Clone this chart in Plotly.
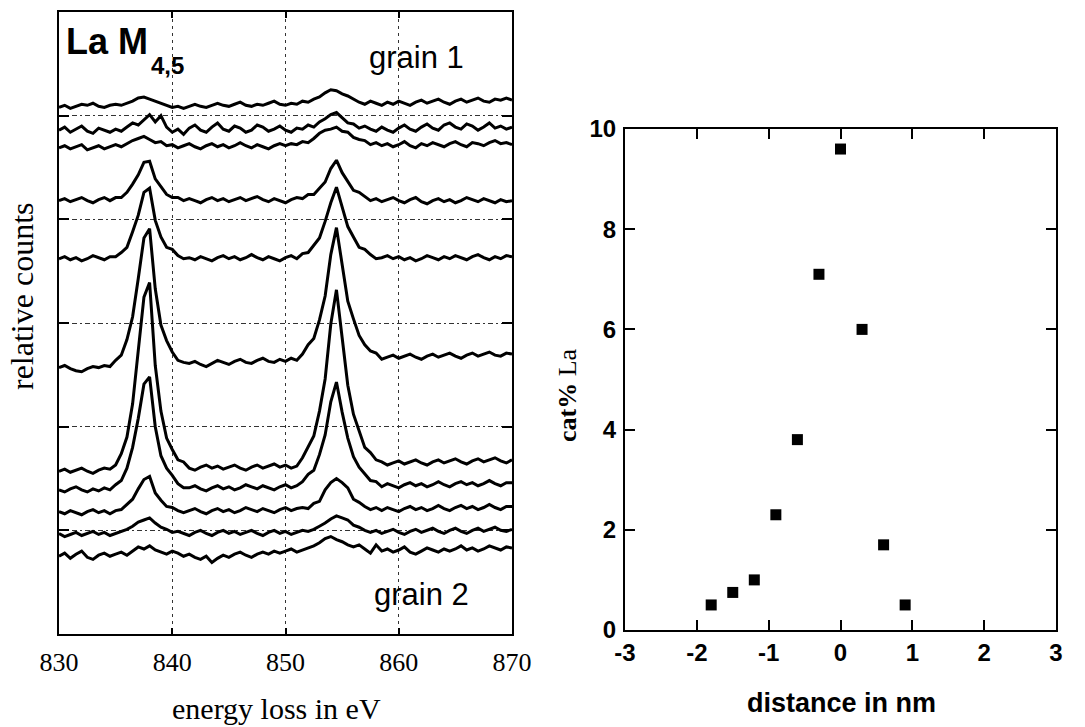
import plotly.graph_objects as go

# ---------------- data: La M4,5 edge spectra (relative counts, arbitrary offset units) -------------
energy = [830.0, 830.5, 831.0, 831.5, 832.0, 832.5, 833.0, 833.5, 834.0, 834.5,
          835.0, 835.5, 836.0, 836.5, 837.0, 837.5, 838.0, 838.5, 839.0, 839.5,
          840.0, 840.5, 841.0, 841.5, 842.0, 842.5, 843.0, 843.5, 844.0, 844.5,
          845.0, 845.5, 846.0, 846.5, 847.0, 847.5, 848.0, 848.5, 849.0, 849.5,
          850.0, 850.5, 851.0, 851.5, 852.0, 852.5, 853.0, 853.5, 854.0, 854.5,
          855.0, 855.5, 856.0, 856.5, 857.0, 857.5, 858.0, 858.5, 859.0, 859.5,
          860.0, 860.5, 861.0, 861.5, 862.0, 862.5, 863.0, 863.5, 864.0, 864.5,
          865.0, 865.5, 866.0, 866.5, 867.0, 867.5, 868.0, 868.5, 869.0, 869.5,
          870.0]

spec_01 = [508, 510, 507, 509, 511, 510, 512, 509, 508, 510,
           511, 510, 512, 514, 517, 518, 516, 514, 512, 510,
           508, 509, 507, 509, 511, 509, 508, 510, 512, 510,
           509, 511, 513, 510, 509, 511, 510, 512, 514, 511,
           510, 512, 511, 514, 513, 516, 518, 522, 525, 524,
           521, 519, 516, 513, 511, 514, 512, 510, 513, 511,
           514, 512, 510, 513, 515, 512, 514, 516, 513, 511,
           514, 516, 513, 515, 517, 514, 513, 516, 515, 517,
           515]
spec_02 = [486, 489, 484, 487, 490, 485, 483, 488, 486, 484,
           487, 485, 489, 493, 491, 496, 501, 494, 500, 489,
           484, 487, 482, 488, 491, 486, 484, 489, 493, 487,
           485, 490, 488, 484, 486, 491, 489, 485, 487, 490,
           486, 484, 488, 487, 491, 489, 494, 497, 501, 503,
           498, 493, 492, 488, 490, 487, 485, 489, 486, 484,
           488, 491, 487, 485, 489, 492, 488, 486, 491, 493,
           489, 487, 492, 490, 486, 489, 493, 488, 490, 487,
           489]
spec_03 = [469, 471, 468, 470, 472, 467, 469, 471, 468, 470,
           472, 470, 473, 476, 478, 480, 477, 474, 475, 471,
           472, 469, 471, 473, 470, 468, 471, 473, 470, 472,
           469, 471, 474, 471, 469, 472, 470, 468, 471, 473,
           471, 473, 472, 475, 474, 478, 483, 486, 487, 489,
           485, 484, 479, 477, 476, 472, 474, 471, 473, 470,
           472, 475, 471, 469, 473, 471, 474, 472, 470, 473,
           475, 472, 470, 474, 473, 471, 474, 476, 473, 474,
           472]
spec_04 = [418, 420, 417, 419, 421, 418, 416, 419, 421, 418,
           421, 421, 426, 434, 443, 455, 456, 439, 431, 424,
           421, 421, 418, 420, 418, 416, 419, 421, 418, 420,
           417, 419, 421, 418, 420, 422, 419, 417, 420, 418,
           416, 419, 421, 420, 424, 424, 430, 436, 449, 457,
           445, 437, 428, 426, 422, 418, 420, 417, 419, 421,
           418, 416, 419, 421, 417, 415, 418, 420, 417, 419,
           416, 418, 421, 419, 417, 420, 418, 416, 419, 417,
           418]
spec_05 = [362, 364, 361, 363, 360, 362, 365, 363, 361, 364,
           364, 368, 373, 388, 404, 426, 430, 399, 383, 373,
           371, 365, 362, 363, 361, 364, 362, 360, 363, 365,
           362, 364, 361, 363, 366, 363, 361, 364, 362, 360,
           363, 365, 362, 367, 368, 375, 382, 398, 416, 431,
           413, 393, 383, 373, 371, 366, 362, 363, 365, 362,
           364, 361, 363, 360, 362, 365, 363, 361, 364, 362,
           365, 363, 361, 364, 366, 363, 361, 364, 362, 365,
           364]
spec_06 = [257, 259, 256, 254, 253, 256, 258, 257, 259, 258,
           264, 269, 284, 306, 343, 382, 391, 333, 298, 283,
           272, 264, 262, 261, 263, 260, 258, 261, 264, 262,
           260, 263, 265, 262, 261, 264, 266, 263, 262, 265,
           263, 266, 264, 270, 279, 285, 303, 326, 366, 392,
           356, 321, 304, 288, 279, 273, 271, 265, 267, 269,
           266, 268, 270, 267, 265, 268, 270, 267, 269, 271,
           268, 266, 269, 271, 268, 270, 272, 269, 268, 271,
           270]
spec_07 = [157, 159, 156, 158, 160, 157, 155, 158, 160, 159,
           163, 174, 190, 222, 272, 325, 339, 259, 215, 189,
           178, 168, 166, 160, 158, 161, 163, 160, 162, 159,
           161, 163, 160, 158, 161, 163, 160, 162, 164, 161,
           163, 160, 162, 170, 180, 191, 215, 246, 299, 332,
           286, 240, 212, 195, 180, 175, 168, 166, 163, 165,
           167, 164, 166, 168, 165, 163, 166, 168, 165, 167,
           169, 166, 164, 167, 169, 166, 168, 170, 167, 165,
           168]
spec_08 = [139, 137, 140, 142, 139, 137, 140, 138, 141, 139,
           144, 148, 160, 180, 208, 241, 248, 200, 172, 160,
           153, 145, 141, 141, 143, 140, 138, 141, 143, 140,
           142, 139, 141, 144, 142, 140, 143, 141, 139, 142,
           144, 141, 143, 147, 154, 158, 173, 192, 224, 243,
           214, 189, 171, 161, 155, 148, 147, 142, 145, 143,
           141, 144, 146, 143, 145, 142, 144, 147, 144, 142,
           145, 147, 144, 146, 143, 145, 148, 145, 143, 146,
           146]
spec_09 = [118, 116, 119, 117, 115, 118, 120, 117, 119, 116,
           119, 120, 125, 130, 140, 149, 152, 136, 129, 123,
           122, 119, 117, 119, 121, 118, 116, 119, 121, 118,
           120, 117, 119, 122, 120, 118, 121, 119, 117, 120,
           122, 119, 121, 122, 121, 126, 128, 139, 146, 150,
           146, 141, 130, 127, 123, 120, 122, 119, 122, 120,
           118, 121, 123, 120, 122, 119, 121, 124, 121, 119,
           122, 124, 121, 123, 120, 122, 125, 122, 120, 123,
           123]
spec_10 = [97, 94, 96, 98, 95, 97, 99, 96, 98, 95,
           97, 99, 101, 104, 108, 110, 112, 107, 103, 101,
           98, 99, 97, 95, 98, 100, 97, 95, 98, 100,
           97, 99, 96, 98, 100, 97, 95, 98, 100, 97,
           99, 96, 98, 100, 99, 101, 104, 107, 111, 114,
           112, 110, 105, 103, 100, 98, 100, 97, 99, 101,
           98, 96, 99, 101, 98, 100, 102, 99, 97, 100,
           102, 99, 97, 100, 102, 99, 101, 103, 100, 99,
           101]
spec_11 = [75, 78, 73, 77, 80, 74, 72, 76, 78, 75,
           77, 79, 76, 80, 84, 82, 85, 81, 79, 77,
           80, 78, 75, 77, 74, 72, 75, 69, 73, 76,
           74, 77, 79, 76, 74, 77, 79, 77, 80, 78,
           80, 82, 79, 81, 83, 85, 88, 92, 94, 91,
           89, 86, 84, 86, 82, 78, 86, 80, 82, 79,
           81, 84, 79, 77, 80, 83, 81, 79, 82, 80,
           82, 85, 81, 83, 80, 82, 85, 83, 81, 84,
           83]

spectra = [spec_01, spec_02, spec_03, spec_04, spec_05, spec_06,
           spec_07, spec_08, spec_09, spec_10, spec_11]

# ---------------- data: La concentration profile -------------
distance_nm = [-1.8, -1.5, -1.2, -0.9, -0.6, -0.3, 0.0, 0.3, 0.6, 0.9]
cat_pct_la = [0.5, 0.75, 1.0, 2.3, 3.8, 7.1, 9.6, 6.0, 1.7, 0.5]

x_ticks_left = [830, 840, 850, 860, 870]
y_grid_left = [100, 200, 300, 400, 500]
x_ticks_right = [-3, -2, -1, 0, 1, 2, 3]
x_ticktext_right = ["-3", "-2", "-1", "0", "1", "2", "3"]
y_ticks_right = [0, 2, 4, 6, 8, 10]

W, H = 1085, 727
def px(x):
    return x / W
def py(y):
    return 1 - y / H

fig = go.Figure()
for s in spectra:
    fig.add_trace(go.Scatter(x=energy, y=s, mode="lines",
                             line=dict(color="black", width=3),
                             xaxis="x", yaxis="y", showlegend=False,
                             hoverinfo="skip"))

fig.add_trace(go.Scatter(x=distance_nm, y=cat_pct_la, mode="markers",
                         marker=dict(symbol="square", size=11, color="black"),
                         xaxis="x2", yaxis="y2", showlegend=False))

serif = "Liberation Serif, Times New Roman, serif"
sans = "Liberation Sans, Arial, sans-serif"

fig.update_layout(
    template="none",
    width=W, height=H,
    margin=dict(l=0, r=0, t=0, b=0, pad=0, autoexpand=False),
    paper_bgcolor="white", plot_bgcolor="white",
    xaxis=dict(domain=[px(59), px(512)], range=[830, 870], anchor="y",
               automargin=False,
               tickvals=x_ticks_left, ticks="inside", ticklen=6, tickwidth=1.5,
               tickcolor="black", showline=True, linecolor="black", linewidth=2,
               mirror="ticks", showgrid=True, gridcolor="#333", gridwidth=1.3,
               griddash="3px,4px", zeroline=False,
               tickfont=dict(family=serif, size=26, color="black"),
               ticklabelstandoff=4),
    yaxis=dict(domain=[py(634), py(12)], range=[0, 600], anchor="x",
               automargin=False,
               tickvals=y_grid_left, ticks="inside", ticklen=10, tickwidth=2,
               tickcolor="black", showline=True, linecolor="black", linewidth=2,
               mirror="ticks", showgrid=True, gridcolor="#333", gridwidth=1.3,
               griddash="5px,3px,2px,3px", zeroline=False, showticklabels=False),
    xaxis2=dict(domain=[px(625), px(1056)], range=[-3, 3], anchor="y2",
                automargin=False,
                tickvals=x_ticks_right, ticktext=x_ticktext_right,
                ticks="inside", ticklen=10,
                tickwidth=2, tickcolor="black", showline=True, linecolor="black",
                linewidth=2, mirror="ticks", showgrid=False, zeroline=False,
                tickfont=dict(family=sans, size=24, color="black", weight="bold"),
                ticklabelstandoff=0),
    yaxis2=dict(domain=[py(630), py(129)], range=[0, 10], anchor="x2",
                automargin=False,
                tickvals=y_ticks_right, ticks="inside", ticklen=10,
                tickwidth=2, tickcolor="black", showline=True, linecolor="black",
                linewidth=2, mirror="ticks", showgrid=False, zeroline=False,
                tickfont=dict(family=sans, size=24, color="black", weight="bold"),
                ticklabelstandoff=2),
)

ann = [
    dict(text="relative counts", x=px(22), y=py(297), textangle=-90,
         font=dict(family=serif, size=32, color="black")),
    dict(text="energy loss in eV", x=px(276), y=py(708),
         font=dict(family=serif, size=30, color="black")),
    dict(text="<b>La M</b>", x=px(64), y=py(42), xanchor="left",
         font=dict(family=sans, size=36, color="black")),
    dict(text="<b>4,5</b>", x=px(149), y=py(65), xanchor="left",
         font=dict(family=sans, size=24, color="black")),
    dict(text="grain 1", x=px(416), y=py(57),
         font=dict(family=sans, size=31, color="black")),
    dict(text="grain 2", x=px(421), y=py(594),
         font=dict(family=sans, size=31, color="black")),
    dict(text="<b>distance in nm</b>", x=px(841), y=py(703),
         font=dict(family=sans, size=27, color="black")),
    dict(text="<b>cat%</b> La", x=px(568), y=py(395), textangle=-90,
         font=dict(family=serif, size=26, color="black")),
]
for a in ann:
    a.update(xref="paper", yref="paper", showarrow=False)
    a.setdefault("xanchor", "center")
    a.setdefault("yanchor", "middle")
fig.update_layout(annotations=ann)

fig.write_html("out.html",
               config={"displayModeBar": False},
               post_script="document.body.style.margin='0px';"
                           "document.body.style.padding='0px';"
                           "document.body.style.overflow='hidden';")
